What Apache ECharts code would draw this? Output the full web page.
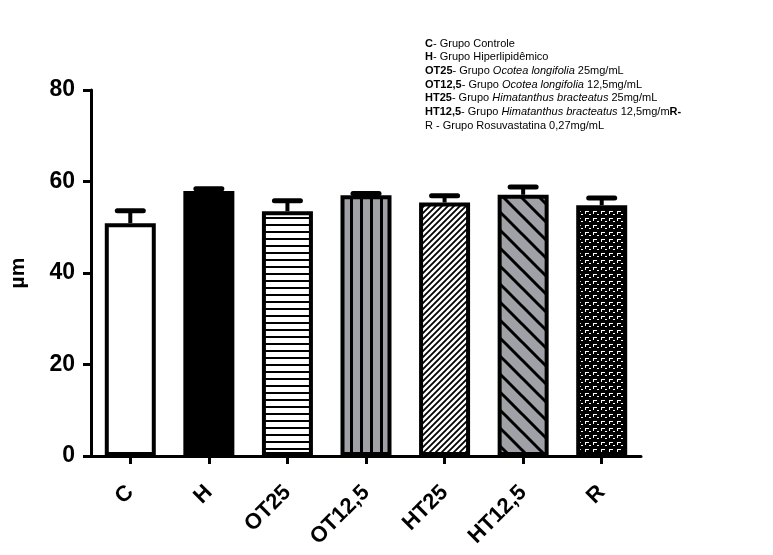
<!DOCTYPE html>
<html>
<head>
<meta charset="utf-8">
<script src="https://cdn.jsdelivr.net/npm/echarts@6/dist/echarts.min.js"></script>
<style>html,body{margin:0;padding:0;background:#fff}#c{width:773px;height:555px}</style>
</head>
<body>
<div id="c"></div>
<script>
// ---- data ----
var categories = ['C', 'H', 'OT25', 'OT12,5', 'HT25', 'HT12,5', 'R'];
var means = [50.9, 57.9, 53.5, 57.0, 55.4, 57.1, 54.8];
var sem = [2.7, 0.5, 2.3, 0.4, 1.5, 1.7, 1.6];
var yTicks = [0, 20, 40, 60, 80];
var legendLines = [
  [['b', 'C'], ['n', '- Grupo Controle']],
  [['b', 'H'], ['n', '- Grupo Hiperlipidêmico']],
  [['b', 'OT25'], ['n', '- Grupo '], ['i', 'Ocotea longifolia'], ['n', ' 25mg/mL']],
  [['b', 'OT12,5'], ['n', '- Grupo '], ['i', 'Ocotea longifolia'], ['n', ' 12,5mg/mL']],
  [['b', 'HT25'], ['n', '- Grupo '], ['i', 'Himatanthus bracteatus'], ['n', ' 25mg/mL']],
  [['b', 'HT12,5'], ['n', '- Grupo '], ['i', 'Himatanthus bracteatus'], ['n', ' 12,5mg/m'], ['b', 'R-']],
  [['n', 'R - Grupo Rosuvastatina 0,27mg/mL']]
];

// ---- patterns ----
function tile(w, h, bg, draw) {
  var cv = document.createElement('canvas');
  cv.width = w; cv.height = h;
  var ctx = cv.getContext('2d');
  ctx.fillStyle = bg; ctx.fillRect(0, 0, w, h);
  draw(ctx, w, h);
  return {image: cv, repeat: 'repeat'};
}
var GRAY = '#a0a0a7';
var pats = [
  '#ffffff',
  '#000000',
  tile(8, 7, '#ffffff', function (c, w, h) { c.fillStyle = '#000'; c.fillRect(0, 0, w, 2); }),
  tile(10, 8, GRAY, function (c, w, h) { c.fillStyle = '#000'; c.fillRect(0, 0, 3, h); }),
  tile(6, 6, '#ffffff', function (c, w, h) {
    c.strokeStyle = '#000'; c.lineWidth = 1.8;
    c.beginPath(); c.moveTo(-1, h + 1); c.lineTo(w + 1, -1);
    c.moveTo(-1, 1); c.lineTo(1, -1);
    c.moveTo(w - 1, h + 1); c.lineTo(w + 1, h - 1); c.stroke();
  }),
  tile(18, 18, GRAY, function (c, w, h) {
    c.strokeStyle = '#000'; c.lineWidth = 3;
    c.beginPath(); c.moveTo(-2, -2); c.lineTo(w + 2, h + 2);
    c.moveTo(w - 3, -3); c.lineTo(w + 3, 3);
    c.moveTo(-3, h - 3); c.lineTo(3, h + 3); c.stroke();
  }),
  tile(8, 7, '#000000', function (c, w, h) {
    c.fillStyle = '#fff';
    c.fillRect(1, 1, 4, 1); c.fillRect(1, 1, 1, 3);
    c.fillRect(5, 4, 2, 1);
  })
];

var FONT = '"Liberation Sans", Arial, sans-serif';
var chart = echarts.init(document.getElementById('c'));

var graphics = legendLines.map(function (line, i) {
  var txt = line.map(function (p) { return '{' + p[0] + '|' + p[1] + '}'; }).join('');
  return {
    type: 'text', left: 425, top: 38 + i * 13.7,
    style: {
      text: txt, fontFamily: FONT, fontSize: 11, fill: '#000',
      rich: {
        b: {fontWeight: 'bold', fontSize: 11, fontFamily: FONT},
        n: {fontSize: 11, fontFamily: FONT},
        i: {fontStyle: 'italic', fontSize: 11, fontFamily: FONT}
      }
    }
  };
});

chart.setOption({
  animation: false,
  grid: {left: 90, right: 132, top: 90, bottom: 99, containLabel: false},
  graphic: graphics,
  xAxis: {
    type: 'category', data: categories,
    axisLine: {lineStyle: {color: '#000', width: 3}},
    axisTick: {show: true, alignWithLabel: true, length: 8, lineStyle: {color: '#000', width: 3}},
    axisLabel: {rotate: 45, margin: 33, color: '#000', fontWeight: 'bold', fontSize: 22, fontFamily: FONT}
  },
  yAxis: {
    type: 'value', min: 0, max: 80, interval: 20,
    name: 'µm', nameLocation: 'middle', nameRotate: 90, nameGap: 62,
    nameTextStyle: {color: '#000', fontWeight: 'bold', fontSize: 21, fontFamily: FONT},
    axisLine: {show: true, lineStyle: {color: '#000', width: 3}},
    axisTick: {show: true, length: 8, lineStyle: {color: '#000', width: 3}},
    splitLine: {show: false},
    axisLabel: {color: '#000', fontWeight: 'bold', fontSize: 23, fontFamily: FONT, margin: 16,
      formatter: function (v) { return yTicks.indexOf(v) >= 0 ? String(v) : ''; }}
  },
  series: [
    {
      type: 'custom', z: 1,
      renderItem: function (params, api) {
        var i = api.value(0);
        var m = api.value(1), e = api.value(2);
        var p0 = api.coord([i, m]);
        var p1 = api.coord([i, m + e]);
        return {
          type: 'group', children: [
            {type: 'line', shape: {x1: p0[0], y1: p0[1], x2: p1[0], y2: p1[1]}, style: {stroke: '#000', lineWidth: 4}},
            {type: 'line', shape: {x1: p1[0] - 13, y1: p1[1], x2: p1[0] + 13, y2: p1[1]}, style: {stroke: '#000', lineWidth: 5, lineCap: 'round'}}
          ]
        };
      },
      data: means.map(function (m, i) { return [i, m, sem[i]]; })
    },
    {
      type: 'bar', z: 2, barWidth: 51,
      data: means.map(function (m, i) {
        return {value: m, itemStyle: {color: pats[i], borderColor: '#000', borderWidth: 4}};
      })
    }
  ]
});
</script>
</body>
</html>
